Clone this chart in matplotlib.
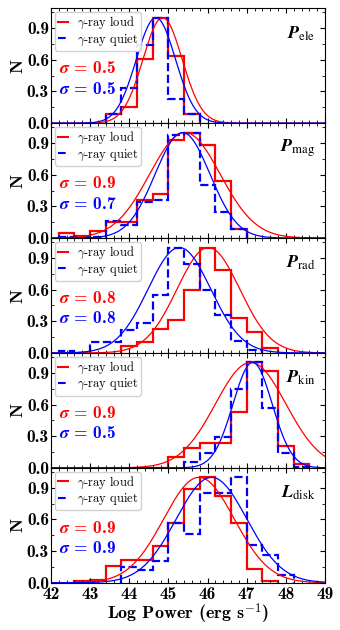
import numpy as np
import matplotlib
matplotlib.use("Agg")
import matplotlib.pyplot as plt
from matplotlib.lines import Line2D
from matplotlib.ticker import MultipleLocator

plt.rcParams['font.family'] = 'cmb10'
plt.rcParams['mathtext.fontset'] = 'cm'
plt.rcParams['axes.unicode_minus'] = False

# panel names
symbols = ['P', 'P', 'P', 'P', 'L']
subscripts = ['ele', 'mag', 'rad', 'kin', 'disk']
sigma_loud = [0.5, 0.9, 0.8, 0.9, 0.9]
sigma_quiet = [0.5, 0.7, 0.8, 0.5, 0.9]
mean_loud = [44.85, 45.42, 46.02, 47.10, 45.78]
mean_quiet = [44.68, 45.36, 45.28, 47.15, 46.10]

bin_width = 0.4

# normalised histograms: first bin edge + heights
loud_start = [43.4, 42.2, 43.8, 44.2, 42.6]
quiet_start = [43.4, 42.2, 42.2, 45.4, 43.8]

ele_loud = [0.09, 0.15, 0.61, 1.0, 0.64, 0.09]
ele_quiet = [0.09, 0.33, 0.74, 1.0, 0.23, 0.09]

mag_loud = [0.045, 0.02, 0.07, 0.15, 0.15, 0.36, 0.42, 0.93, 1.0, 0.88, 0.54, 0.09]
mag_quiet = [0.01, 0.01, 0.01, 0.16, 0.12, 0.34, 0.36, 0.98, 1.0, 0.5, 0.25, 0.09]

rad_loud = [0.07, 0.1, 0.23, 0.31, 0.6, 1.0, 0.79, 0.33, 0.2, 0.05]
rad_quiet = [0.015, 0.0, 0.1, 0.1, 0.22, 0.28, 0.55, 1.0, 0.84, 0.6, 0.36, 0.11, 0.03]

kin_loud = [0.0, 0.0, 0.1, 0.19, 0.24, 0.24, 0.53, 1.0, 0.92, 0.21, 0.035]
kin_quiet = [0.06, 0.14, 0.29, 0.75, 1.0, 0.57, 0.14, 0.01]

disk_loud = [0.015, 0.03, 0.16, 0.22, 0.22, 0.35, 0.57, 0.89, 1.0, 0.82, 0.57, 0.13, 0.015]
disk_quiet = [0.15, 0.12, 0.21, 0.57, 0.46, 0.85, 0.85, 1.0, 0.36, 0.26, 0.07]

loud_hists = [ele_loud, mag_loud, rad_loud, kin_loud, disk_loud]
quiet_hists = [ele_quiet, mag_quiet, rad_quiet, kin_quiet, disk_quiet]

fig, axes = plt.subplots(5, 1, figsize=(3.4, 6.3), dpi=100, sharex=True)
fig.subplots_adjust(left=0.15, right=0.956, top=0.987, bottom=0.075, hspace=0)

xs = np.linspace(42, 49, 500)

for i, ax in enumerate(axes):
    h_l = np.array(loud_hists[i])
    h_q = np.array(quiet_hists[i])
    e_l = loud_start[i] + bin_width * np.arange(len(h_l) + 1)
    e_q = quiet_start[i] + bin_width * np.arange(len(h_q) + 1)

    ax.stairs(h_l, e_l, color='red', lw=1.6, baseline=0)
    ax.stairs(h_q, e_q, color='blue', lw=1.6, ls='--', baseline=0)

    ax.plot(xs, np.exp(-(xs - mean_loud[i]) ** 2 / (2 * sigma_loud[i] ** 2)), color='red', lw=0.9)
    ax.plot(xs, np.exp(-(xs - mean_quiet[i]) ** 2 / (2 * sigma_quiet[i] ** 2)), color='blue', lw=0.9)

    ax.set_xlim(42, 49)
    ax.set_ylim(0, 1.09)
    ax.xaxis.set_major_locator(MultipleLocator(1))
    ax.xaxis.set_minor_locator(MultipleLocator(0.2))
    ax.yaxis.set_major_locator(MultipleLocator(0.3))
    ax.yaxis.set_minor_locator(MultipleLocator(0.15))
    ax.tick_params(which='both', direction='in', top=True, right=True, labelsize=12.5, pad=1.5)
    ax.tick_params(axis='x', pad=3)
    ax.tick_params(which='major', length=3.5, width=0.8)
    ax.tick_params(which='minor', length=2, width=0.6)
    ax.set_yticks([0.0, 0.3, 0.6, 0.9])
    ax.set_yticklabels(['0.0', '0.3', '0.6', '0.9'])
    ax.set_ylabel('N', fontsize=13, labelpad=1)

    handles = [Line2D([], [], color='red', lw=1.5),
               Line2D([], [], color='blue', lw=1.5, ls='--')]
    leg = ax.legend(handles, [r'$\gamma$-ray loud', r'$\gamma$-ray quiet'],
                    loc='upper left', prop={'family': 'cmr10', 'size': 9},
                    handlelength=0.8, handletextpad=0.7, labelspacing=0.1,
                    borderpad=0.25, borderaxespad=0.3, framealpha=0.9)
    leg.get_frame().set_edgecolor('#cccccc')

    ax.text(0.03, 0.48, r'$\mathbfit{\sigma}$ = %.1f' % sigma_loud[i], transform=ax.transAxes,
            color='red', fontsize=12.5, va='center', math_fontfamily='stix')
    ax.text(0.03, 0.30, r'$\mathbfit{\sigma}$ = %.1f' % sigma_quiet[i], transform=ax.transAxes,
            color='blue', fontsize=12.5, va='center', math_fontfamily='stix')
    ax.text(0.965, 0.78, r'$\mathbfit{%s}_{\mathrm{%s}}$' % (symbols[i], subscripts[i]),
            transform=ax.transAxes, ha='right', va='center', fontsize=13, math_fontfamily='stix')

axes[-1].set_xlabel(r'Log Power (erg s$^{\mathbf{-1}}$)', fontsize=13, labelpad=0)

fig.savefig('out.png', dpi=100)
